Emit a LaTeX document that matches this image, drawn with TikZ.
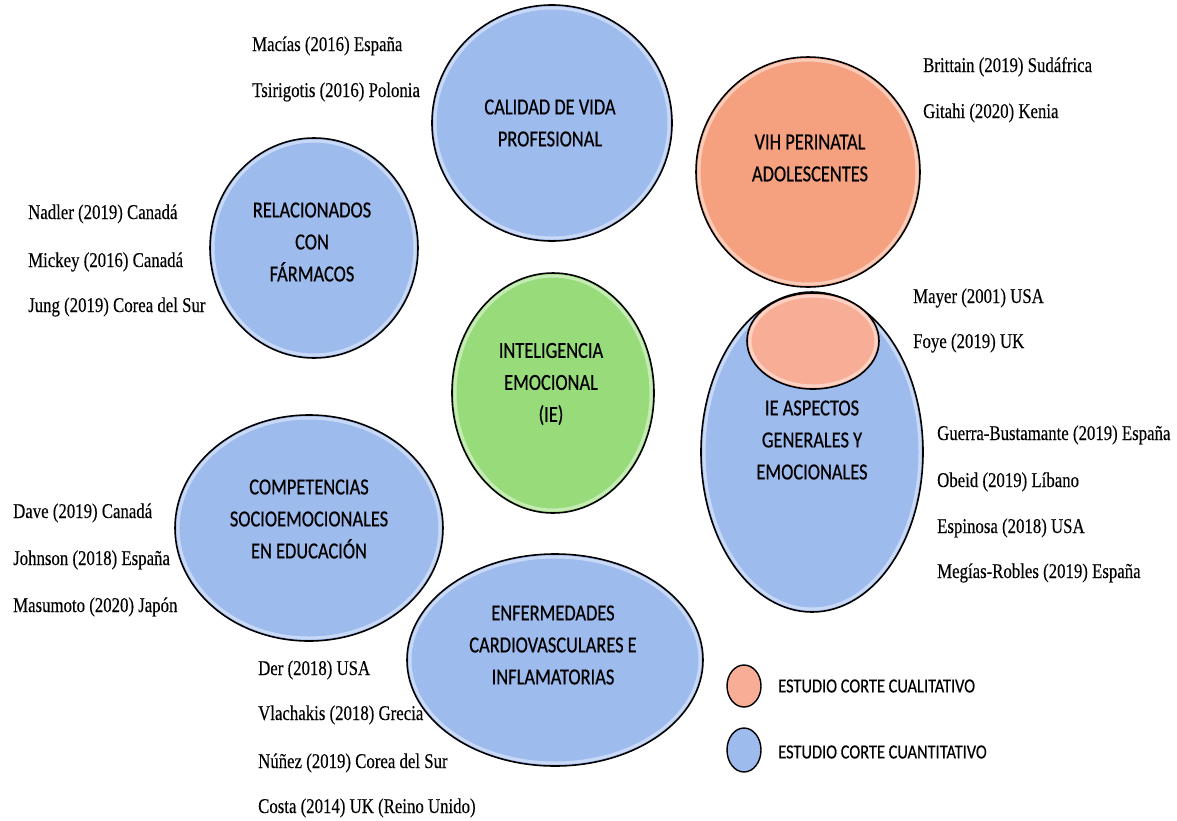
\documentclass[tikz,border=0pt]{standalone}
\usepackage{fontspec}
\usetikzlibrary{shapes.geometric}
\newfontfamily\reffont{Liberation Serif}[FakeStretch=0.80,FakeBold=0.25]
\newfontfamily\capfont{Carlito}[FakeStretch=0.80,FakeBold=0.5]
\newfontfamily\legfont{Carlito}[FakeStretch=0.82,FakeBold=0.3]
\definecolor{qblue}{RGB}{158,187,238}
\definecolor{qorange}{RGB}{245,161,128}
\definecolor{qlight}{RGB}{248,174,150}
\definecolor{qgreen}{RGB}{152,219,122}
\begin{document}
\begin{tikzpicture}[x=1pt,y=-1pt,
  bubble/.style={ellipse,draw=black,line width=1.6pt,inner sep=0pt},
  glowring/.style={draw=white,opacity=0.45,line width=3pt},
  bubtext/.style={font=\capfont\fontsize{23}{32}\selectfont,align=center,inner sep=0pt,text=black},
  reftext/.style={font=\reffont\fontsize{21}{24}\selectfont,anchor=base west,inner sep=0pt},
  legtext/.style={font=\legfont\fontsize{20}{24}\selectfont,anchor=west,inner sep=0pt}]
\useasboundingbox (0,0) rectangle (1177,820);
\fill[white] (0,0) rectangle (1177,820);

% bubbles
\node[bubble,fill=qblue,minimum width=240pt,minimum height=236pt] (cal) at (552,123) {};
\draw[glowring] (cal.center) ellipse [x radius=117pt,y radius=115pt];
\node[bubble,fill=qorange,minimum width=224pt,minimum height=230pt] (vih) at (808,172) {};
\draw[glowring] (vih.center) ellipse [x radius=109pt,y radius=112pt];
\node[bubble,fill=qblue,minimum width=208pt,minimum height=220pt] (rel) at (314,248) {};
\draw[glowring] (rel.center) ellipse [x radius=101pt,y radius=107pt];
\node[bubble,fill=qgreen,minimum width=202pt,minimum height=240pt] (ie) at (553,393) {};
\draw[glowring] (ie.center) ellipse [x radius=98pt,y radius=117pt];
\node[bubble,fill=qblue,minimum width=222pt,minimum height=320pt] (asp) at (812,452) {};
\draw[glowring] (asp.center) ellipse [x radius=108pt,y radius=157pt];
\node[bubble,fill=qlight,minimum width=132pt,minimum height=96pt] (aspq) at (813,341) {};
\draw[glowring] (aspq.center) ellipse [x radius=63pt,y radius=45pt];
\node[bubble,fill=qblue,minimum width=268pt,minimum height=226pt] (comp) at (309,528) {};
\draw[glowring] (comp.center) ellipse [x radius=131pt,y radius=110pt];
\node[bubble,fill=qblue,minimum width=296pt,minimum height=212pt] (enf) at (555,660) {};
\draw[glowring] (enf.center) ellipse [x radius=145pt,y radius=103pt];

% bubble texts
\node[bubtext] (calt) at (550,123) {CALIDAD DE VIDA\\PROFESIONAL};
\node[bubtext] (viht) at (810,158) {VIH PERINATAL\\ADOLESCENTES};
\node[bubtext] (relt) at (312,242) {RELACIONADOS\\CON\\FÁRMACOS};
\node[bubtext] (iet) at (551,384) {INTELIGENCIA\\EMOCIONAL\\(IE)};
\node[bubtext] (aspt) at (812,440) {IE ASPECTOS\\GENERALES Y\\EMOCIONALES};
\node[bubtext] (compt) at (309,519) {COMPETENCIAS\\SOCIOEMOCIONALES\\EN EDUCACIÓN};
\node[bubtext] (enft) at (553,645) {ENFERMEDADES\\CARDIOVASCULARES E\\INFLAMATORIAS};

% references
\node[reftext] (r1) at (252,51) {Macías (2016) España};
\node[reftext] (r2) at (252,97) {Tsirigotis (2016) Polonia};
\node[reftext] (r3) at (923,72) {Brittain (2019) Sudáfrica};
\node[reftext] (r4) at (923,118) {Gitahi (2020) Kenia};
\node[reftext] (r5) at (28,219) {Nadler (2019) Canadá};
\node[reftext] (r6) at (28,267) {Mickey (2016) Canadá};
\node[reftext] (r7) at (28,312) {Jung (2019) Corea del Sur};
\node[reftext] (r8) at (913,303) {Mayer (2001) USA};
\node[reftext] (r9) at (913,348) {Foye (2019) UK};
\node[reftext] (r10) at (937,440) {Guerra-Bustamante (2019) España};
\node[reftext] (r11) at (937,487) {Obeid (2019) Líbano};
\node[reftext] (r12) at (937,533) {Espinosa (2018) USA};
\node[reftext] (r13) at (937,578) {Megías-Robles (2019) España};
\node[reftext] (r14) at (13,518) {Dave (2019) Canadá};
\node[reftext] (r15) at (13,565) {Johnson (2018) España};
\node[reftext] (r16) at (13,612) {Masumoto (2020) Japón};
\node[reftext] (r17) at (258,675) {Der (2018) USA};
\node[reftext] (r18) at (258,720) {Vlachakis (2018) Grecia};
\node[reftext] (r19) at (258,768) {Núñez (2019) Corea del Sur};
\node[reftext] (r20) at (258,813) {Costa (2014) UK (Reino Unido)};

% legend
\node[bubble,fill=qlight,minimum width=34pt,minimum height=42pt,line width=1.4pt] (lq) at (744,686) {};
\node[bubble,fill=qblue,minimum width=34pt,minimum height=44pt,line width=1.4pt] (ln) at (744,750) {};
\node[legtext] (lqt) at (778,686) {ESTUDIO CORTE CUALITATIVO};
\node[legtext] (lnt) at (778,752) {ESTUDIO CORTE CUANTITATIVO};
\end{tikzpicture}
\end{document}
